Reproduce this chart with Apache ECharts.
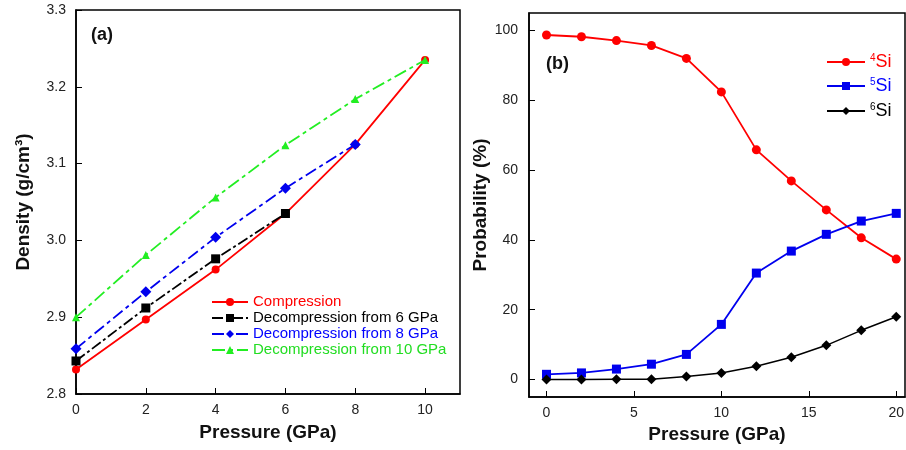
<!DOCTYPE html>
<html>
<head>
<meta charset="utf-8">
<script src="https://cdn.jsdelivr.net/npm/echarts@6/dist/echarts.min.js"></script>
<style>html,body{margin:0;padding:0;background:#fff;}#c{width:906px;height:450px;}</style>
</head>
<body>
<div id="c"></div>
<script>
// Panel (a): density vs pressure
const pressureA = [0, 2, 4, 6, 8, 10];
const compression = [2.832, 2.897, 2.962, 3.035, 3.125, 3.235];
const decomp6 = [2.843, 2.912, 2.976, 3.035];
const decomp8 = [2.859, 2.933, 3.004, 3.068, 3.125];
const decomp10 = [2.900, 2.981, 3.056, 3.124, 3.184, 3.235];
const xTicksA = [0, 2, 4, 6, 8, 10];
const yTicksA = [2.8, 2.9, 3.0, 3.1, 3.2, 3.3];

// Panel (b): probability vs pressure
const pressureB = [0, 2, 4, 6, 8, 10, 12, 14, 16, 18, 20];
const si4 = [98.7, 98.2, 97.1, 95.7, 92.0, 82.4, 65.8, 56.9, 48.6, 40.6, 34.5];
const si5 = [1.5, 1.9, 3.0, 4.4, 7.2, 15.8, 30.5, 36.8, 41.6, 45.4, 47.6];
const si6 = [0.0, 0.0, 0.1, 0.1, 0.9, 1.9, 3.8, 6.4, 9.8, 14.1, 18.0];
const xTicksB = [0, 5, 10, 15, 20];
const yTicksB = [0, 20, 40, 60, 80, 100];

const zip = (xs, ys) => ys.map((y, i) => [xs[i], y]);
const FONT = 'Liberation Sans, Arial, sans-serif';
const tickLabel = { fontFamily: FONT, fontSize: 14, color: '#222' };
const nameStyle = { fontFamily: FONT, fontSize: 19, fontWeight: 'bold', color: '#111' };

const chart = echarts.init(document.getElementById('c'), null, { renderer: 'canvas' });

function legendB(name, color, top, sup) {
  return {
    top: top, left: 826, orient: 'vertical', itemWidth: 38, itemHeight: 10, itemGap: 0, padding: 0,
    data: [name],
    formatter: () => '{s|' + sup + '}{n|Si}',
    textStyle: {
      fontFamily: FONT, color: color,
      rich: {
        s: { fontFamily: FONT, fontSize: 10, color: color, padding: [0, 0, 8, 0] },
        n: { fontFamily: FONT, fontSize: 18, color: color }
      }
    }
  };
}

chart.setOption({
  animation: false,
  backgroundColor: '#fff',
  grid: [
    { left: 76, top: 10, width: 384, height: 384, outerBoundsMode: 'none', containLabel: false, show: true, borderColor: '#000', borderWidth: 1.5, backgroundColor: 'transparent' },
    { left: 529, top: 13, width: 376, height: 384, outerBoundsMode: 'none', containLabel: false, show: true, borderColor: '#000', borderWidth: 1.5, backgroundColor: 'transparent' }
  ],
  xAxis: [
    {
      gridIndex: 0, type: 'value', min: 0, max: 11,
      name: 'Pressure (GPa)', nameLocation: 'middle', nameGap: 29, nameTextStyle: nameStyle,
      axisLine: { lineStyle: { color: '#000', width: 1.5 } },
      axisTick: { inside: true, length: 6, customValues: xTicksA, lineStyle: { color: '#000', width: 1 } },
      axisLabel: Object.assign({ margin: 9, customValues: xTicksA }, tickLabel),
      splitLine: { show: false }
    },
    {
      gridIndex: 1, type: 'value', min: -1, max: 20.5,
      name: 'Pressure (GPa)', nameLocation: 'middle', nameGap: 27, nameTextStyle: nameStyle,
      axisLine: { onZero: false, lineStyle: { color: '#000', width: 1.5 } },
      axisTick: { inside: true, length: 6, customValues: xTicksB, lineStyle: { color: '#000', width: 1 } },
      axisLabel: Object.assign({ margin: 9, customValues: xTicksB }, tickLabel),
      splitLine: { show: false }
    }
  ],
  yAxis: [
    {
      gridIndex: 0, type: 'value', min: 2.8, max: 3.3,
      name: 'Density (g/cm³)', nameLocation: 'middle', nameGap: 43, nameTextStyle: nameStyle,
      axisLine: { lineStyle: { color: '#000', width: 1.5 } },
      axisTick: { inside: true, length: 6, customValues: yTicksA, lineStyle: { color: '#000', width: 1 } },
      axisLabel: Object.assign({ margin: 10, customValues: yTicksA, formatter: v => v.toFixed(1) }, tickLabel),
      splitLine: { show: false }
    },
    {
      gridIndex: 1, type: 'value', min: -5, max: 105,
      name: 'Probability (%)', nameLocation: 'middle', nameGap: 36, nameTextStyle: nameStyle,
      axisLine: { onZero: false, lineStyle: { color: '#000', width: 1.5 } },
      axisTick: { inside: true, length: 6, customValues: yTicksB, lineStyle: { color: '#000', width: 1 } },
      axisLabel: Object.assign({ margin: 11, customValues: yTicksB }, tickLabel),
      splitLine: { show: false }
    }
  ],
  legend: [
    {
      top: 294, left: 211, orient: 'vertical', itemWidth: 36, itemHeight: 10, itemGap: 0, padding: 0,
      textStyle: { fontFamily: FONT, fontSize: 15, lineHeight: 16 },
      data: [
        { name: 'Compression', textStyle: { color: '#ff0000' } },
        { name: 'Decompression from 6 GPa', textStyle: { color: '#000000' } },
        { name: 'Decompression from 8 GPa', textStyle: { color: '#0000ff' } },
        { name: 'Decompression from 10 GPa', textStyle: { color: '#22dd22' } }
      ]
    },
    legendB('4Si', '#ff0000', 53, '4'),
    legendB('5Si', '#0000ff', 77, '5'),
    legendB('6Si', '#000000', 102, '6')
  ],
  graphic: [
    { type: 'text', left: 91, top: 26, style: { text: '(a)', fontFamily: FONT, fontSize: 18, fontWeight: 'bold', fill: '#111' } },
    { type: 'text', left: 546, top: 55, style: { text: '(b)', fontFamily: FONT, fontSize: 18, fontWeight: 'bold', fill: '#111' } }
  ],
  series: [
    {
      name: 'Compression', type: 'line', xAxisIndex: 0, yAxisIndex: 0, z: 3,
      data: zip(pressureA, compression), symbol: 'circle', symbolSize: 8,
      itemStyle: { color: '#ff0000' }, lineStyle: { color: '#ff0000', width: 1.8, type: 'solid' }
    },
    {
      name: 'Decompression from 6 GPa', type: 'line', xAxisIndex: 0, yAxisIndex: 0, z: 4,
      data: zip(pressureA, decomp6), symbol: 'rect', symbolSize: 9,
      itemStyle: { color: '#000000' }, lineStyle: { color: '#000000', width: 1.8, type: [11, 3, 3, 3] }
    },
    {
      name: 'Decompression from 8 GPa', type: 'line', xAxisIndex: 0, yAxisIndex: 0, z: 4,
      data: zip(pressureA, decomp8), symbol: 'diamond', symbolSize: 11,
      itemStyle: { color: '#0000ee' }, lineStyle: { color: '#0000ee', width: 1.8, type: [12, 4, 4, 4] }
    },
    {
      name: 'Decompression from 10 GPa', type: 'line', xAxisIndex: 0, yAxisIndex: 0, z: 4,
      data: zip(pressureA, decomp10), symbol: 'triangle', symbolSize: 8,
      itemStyle: { color: '#22ee22' }, lineStyle: { color: '#22ee22', width: 1.8, type: [13, 4, 4, 4] }
    },
    {
      name: '4Si', type: 'line', xAxisIndex: 1, yAxisIndex: 1,
      data: zip(pressureB, si4), symbol: 'circle', symbolSize: 9,
      itemStyle: { color: '#ff0000' }, lineStyle: { color: '#ff0000', width: 1.8 }
    },
    {
      name: '5Si', type: 'line', xAxisIndex: 1, yAxisIndex: 1,
      data: zip(pressureB, si5), symbol: 'rect', symbolSize: 9,
      itemStyle: { color: '#0000ee' }, lineStyle: { color: '#0000ee', width: 1.8 }
    },
    {
      name: '6Si', type: 'line', xAxisIndex: 1, yAxisIndex: 1,
      data: zip(pressureB, si6), symbol: 'diamond', symbolSize: 10,
      itemStyle: { color: '#000000' }, lineStyle: { color: '#000000', width: 1.5 }
    }
  ]
});
</script>
</body>
</html>
